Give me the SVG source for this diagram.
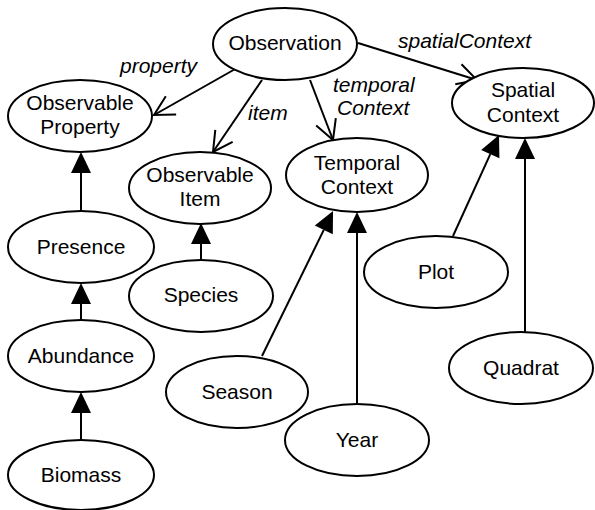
<svg xmlns="http://www.w3.org/2000/svg" width="595" height="510" viewBox="0 0 595 510">
<style>
ellipse{fill:#fff;stroke:#000;stroke-width:2}
text{font-family:"Liberation Sans",Arial,sans-serif;font-size:21px;fill:#000}
.n{text-anchor:middle}
.l{font-style:italic}
.c line{stroke:#000;stroke-width:2;fill:none}
.open{marker-end:url(#open)}
.isa{marker-end:url(#tri)}
</style>
<defs>
<marker id="open" markerUnits="userSpaceOnUse" viewBox="0 0 22 24" markerWidth="22" markerHeight="24" refX="21" refY="12" orient="auto" overflow="visible">
<path d="M1.5,1.5 L21,12 L1.5,22.5" fill="none" stroke="#000" stroke-width="2"/>
</marker>
<marker id="tri" markerUnits="userSpaceOnUse" viewBox="0 0 21 20" markerWidth="21" markerHeight="20" refX="0" refY="10" orient="auto" overflow="visible">
<path d="M0,0 L21,10 L0,20 z" fill="#000"/>
</marker>
</defs>
<g class="c" id="connectors">
<line class="open" x1="237" y1="68" x2="154" y2="115"/>
<line class="open" x1="262" y1="80" x2="213" y2="152"/>
<line class="open" x1="310" y1="80" x2="333" y2="140"/>
<line class="open" x1="358" y1="43" x2="477" y2="80"/>
<line class="isa" x1="81" y1="212" x2="81" y2="173"/>
<line class="isa" x1="81" y1="320" x2="81" y2="304"/>
<line class="isa" x1="81" y1="439" x2="81" y2="413"/>
<line class="isa" x1="201" y1="260" x2="201" y2="244"/>
<line class="isa" x1="262" y1="356" x2="323.8" y2="229.9"/>
<line class="isa" x1="357" y1="403" x2="357" y2="233"/>
<line class="isa" x1="453" y1="236" x2="490.3" y2="154.1"/>
<line class="isa" x1="525" y1="332" x2="525" y2="159"/>
</g>
<g id="labels">
<text class="l" x="120" y="73">property</text>
<text class="l" x="248" y="120">item</text>
<text class="l" x="333" y="92">temporal</text>
<text class="l" x="337" y="115">Context</text>
<text class="l" x="398" y="48">spatialContext</text>
</g>
<g id="observation"><ellipse cx="285" cy="44" rx="72" ry="36"/><text class="n" x="285" y="50">Observation</text></g>
<g id="observable-property"><ellipse cx="80" cy="116" rx="72" ry="36"/><text class="n" x="80" y="110">Observable</text><text class="n" x="80" y="134">Property</text></g>
<g id="observable-item"><ellipse cx="200" cy="188" rx="71" ry="36"/><text class="n" x="200" y="182">Observable</text><text class="n" x="200" y="206">Item</text></g>
<g id="temporal-context"><ellipse cx="357" cy="175" rx="71" ry="37"/><text class="n" x="357" y="170">Temporal</text><text class="n" x="357" y="194">Context</text></g>
<g id="spatial-context"><ellipse cx="523" cy="103" rx="71" ry="35"/><text class="n" x="523" y="97">Spatial</text><text class="n" x="523" y="122">Context</text></g>
<g id="presence"><ellipse cx="81" cy="247" rx="73" ry="36"/><text class="n" x="81" y="254">Presence</text></g>
<g id="species"><ellipse cx="201" cy="296" rx="72" ry="36"/><text class="n" x="201" y="302">Species</text></g>
<g id="abundance"><ellipse cx="81" cy="356" rx="73" ry="36"/><text class="n" x="81" y="363">Abundance</text></g>
<g id="biomass"><ellipse cx="81" cy="475" rx="73" ry="35"/><text class="n" x="81" y="482">Biomass</text></g>
<g id="season"><ellipse cx="237" cy="392" rx="71" ry="36"/><text class="n" x="237" y="399">Season</text></g>
<g id="year"><ellipse cx="357" cy="440" rx="72" ry="36"/><text class="n" x="357" y="447">Year</text></g>
<g id="plot"><ellipse cx="436" cy="272" rx="72" ry="36"/><text class="n" x="436" y="279">Plot</text></g>
<g id="quadrat"><ellipse cx="521" cy="368" rx="72" ry="36"/><text class="n" x="521" y="375">Quadrat</text></g>
</svg>
